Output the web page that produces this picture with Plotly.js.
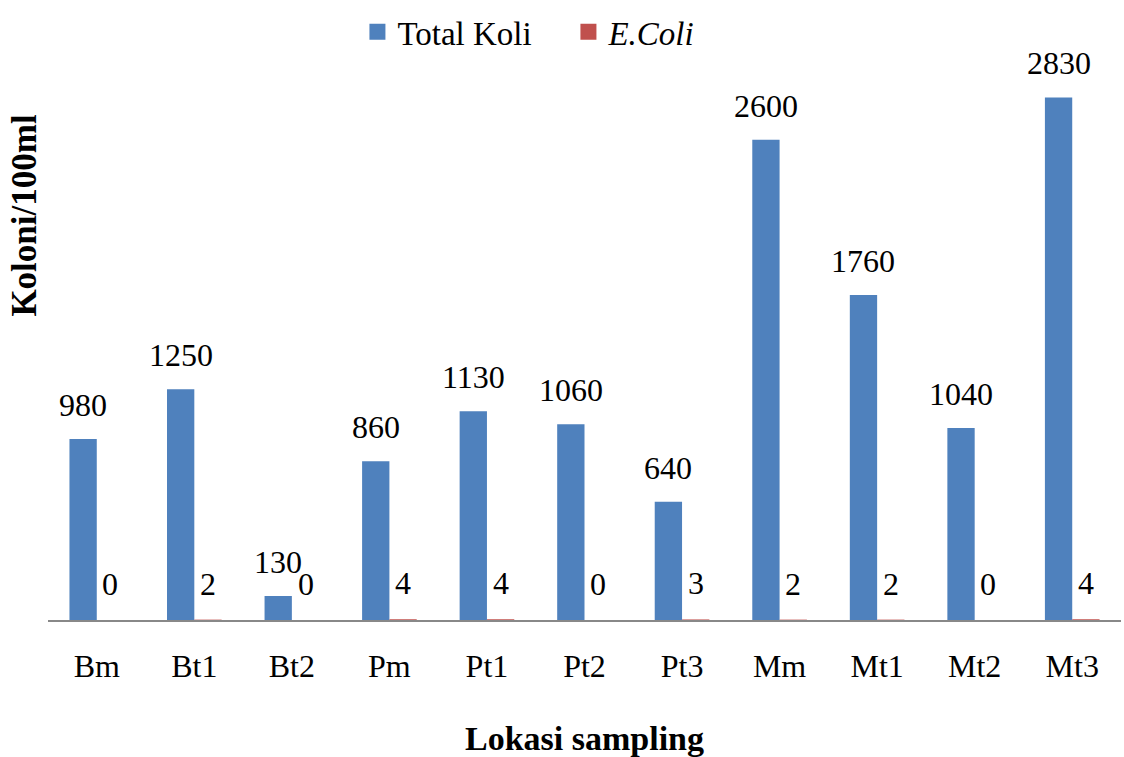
<!DOCTYPE html>
<html>
<head>
<meta charset="utf-8">
<script src="https://cdn.plot.ly/plotly-3.0.1.min.js"></script>
<style>html,body{margin:0;padding:0;background:#fff}#chart{width:1124px;height:757px}</style>
</head>
<body>
<div id="chart"></div>
<script>
const categories = ["Bm","Bt1","Bt2","Pm","Pt1","Pt2","Pt3","Mm","Mt1","Mt2","Mt3"];
const totalKoli = [980,1250,130,860,1130,1060,640,2600,1760,1040,2830];
const eColi = [0,2,0,4,4,0,3,2,2,0,4];
const seriesNames = ["Total Koli","<i>E.Coli</i>"];
const seriesColors = ["#4F81BD","#C0504D"];

const font = "Liberation Serif";
const BARW = 0.28;

const traces = [
  {type:"bar", name:seriesNames[0], x:categories, y:totalKoli, marker:{color:seriesColors[0]}, hoverinfo:"none", showlegend:false},
  {type:"bar", name:seriesNames[1], x:categories, y:eColi, marker:{color:seriesColors[1]}, hoverinfo:"none", showlegend:false},
  // legend-only entries with larger square swatches
  {type:"scatter", mode:"markers", name:seriesNames[0], x:[null], y:[null],
   marker:{symbol:"square", size:17, color:seriesColors[0]}, showlegend:true},
  {type:"scatter", mode:"markers", name:seriesNames[1], x:[null], y:[null],
   marker:{symbol:"square", size:17, color:seriesColors[1]}, showlegend:true}
];

const annotations = [];
categories.forEach((c,i)=>{
  annotations.push({x:i - BARW/2, y:totalKoli[i], xref:"x", yref:"y", text:String(totalKoli[i]),
    showarrow:false, yanchor:"bottom", xanchor:"center", yshift:14,
    font:{family:font,size:32,color:"#000"}});
  annotations.push({x:i + BARW/2, y:eColi[i], xref:"x", yref:"y", text:String(eColi[i]),
    showarrow:false, yanchor:"bottom", xanchor:"center", yshift:16,
    font:{family:font,size:32,color:"#000"}});
});
annotations.push({text:"<b>Koloni/100ml</b>", textangle:-90, xref:"paper", yref:"paper",
  x:-0.0214, y:0.73, xanchor:"center", yanchor:"middle", showarrow:false,
  font:{family:font,size:35,color:"#000"}});

const layout = {
  width:1124, height:757,
  margin:{l:48, r:3, t:66, b:137},
  paper_bgcolor:"#fff", plot_bgcolor:"#fff",
  font:{family:font, size:32, color:"#000"},
  barmode:"group", bargap:0.44, bargroupgap:0,
  showlegend:true,
  legend:{orientation:"h", x:0.318, xanchor:"left", xref:"container", y:0.995, yanchor:"top", yref:"container",
          font:{family:font,size:33,color:"#000"}, traceorder:"normal", itemwidth:30,
          entrywidth:166, entrywidthmode:"pixels"},
  xaxis:{type:"category", showline:true, linecolor:"#888", linewidth:1.5, ticks:"", showgrid:false, automargin:false,
         range:[-0.5, categories.length-0.5],
         tickfont:{family:font,size:32,color:"#000"}, ticklabelstandoff:17,
         title:{text:"<b>Lokasi sampling</b>", font:{family:font,size:34,color:"#000"}, standoff:46}},
  yaxis:{range:[0,3000], visible:false, showgrid:false, zeroline:false, automargin:false},
  annotations:annotations
};

Plotly.newPlot("chart", traces, layout, {displayModeBar:false, staticPlot:true});
</script>
</body>
</html>
